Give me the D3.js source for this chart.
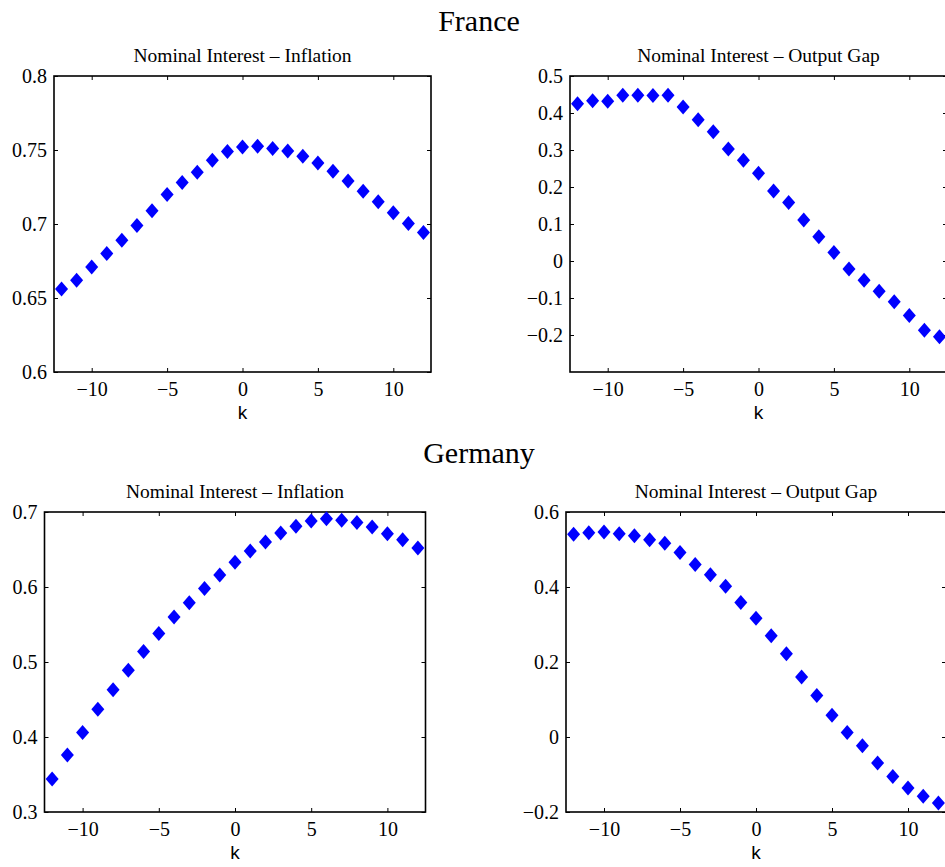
<!DOCTYPE html>
<html>
<head>
<meta charset="utf-8">
<script src="https://cdn.jsdelivr.net/npm/d3@7"></script>
<style>
  html, body { margin: 0; padding: 0; background: #fff; overflow: hidden; }
  svg { display: block; }
</style>
</head>
<body>
<svg id="chart" width="945" height="867"></svg>
<script>
// lags / leads
const kValues = d3.range(-12, 13);

// cross-correlations
const franceInflation = [0.656, 0.662, 0.671, 0.680, 0.689, 0.699, 0.709, 0.720, 0.728, 0.735, 0.743, 0.749,
  0.752, 0.7526, 0.751, 0.7494, 0.7458, 0.7413, 0.7357, 0.729, 0.7222, 0.715, 0.7076, 0.7004, 0.6942];
const franceGap = [0.425, 0.433, 0.432, 0.448, 0.448, 0.447, 0.448, 0.4165, 0.382, 0.349, 0.3025, 0.272,
  0.237, 0.189, 0.158, 0.111, 0.0655, 0.0233, -0.0215, -0.052, -0.0817, -0.110, -0.147, -0.187, -0.205];
const germanyInflation = [0.344, 0.376, 0.406, 0.437, 0.463, 0.489, 0.514, 0.538, 0.560, 0.579, 0.598, 0.616,
  0.633, 0.648, 0.660, 0.672, 0.681, 0.688, 0.691, 0.689, 0.686, 0.680, 0.671, 0.663, 0.652];
const germanyGap = [0.541, 0.545, 0.547, 0.542, 0.537, 0.526, 0.517, 0.492, 0.460, 0.433, 0.402, 0.359,
  0.317, 0.270, 0.222, 0.160, 0.111, 0.058, 0.012, -0.023, -0.069, -0.105, -0.136, -0.158, -0.176];

const xTicks = [-10, -5, 0, 5, 10];
const yTicksFrInfl = [0.6, 0.65, 0.7, 0.75, 0.8];
const yTicksFrGap = [-0.2, -0.1, 0, 0.1, 0.2, 0.3, 0.4, 0.5];
const yTicksDeInfl = [0.3, 0.4, 0.5, 0.6, 0.7];
const yTicksDeGap = [-0.2, 0, 0.2, 0.4, 0.6];

const svg = d3.select("#chart");
const serif = "'Liberation Serif', 'Times New Roman', serif";
const sans = "'Liberation Sans', Arial, sans-serif";
const fmt = d => (d < 0 ? "\u2212" : "") + String(Math.abs(d));

// country headings
svg.append("text").attr("x", 479).attr("y", 31).attr("text-anchor", "middle")
  .style("font-family", serif).style("font-size", "30px").text("France");
svg.append("text").attr("x", 479).attr("y", 463).attr("text-anchor", "middle")
  .style("font-family", serif).style("font-size", "30px").text("Germany");

function panel(box, yDomain, yTicks, values, title) {
  const x = d3.scaleLinear().domain([-12.5, 12.5]).range([box.x0, box.x1]);
  const y = d3.scaleLinear().domain(yDomain).range([box.y1, box.y0]);
  const g = svg.append("g");

  g.append("text")
    .attr("x", (box.x0 + box.x1) / 2).attr("y", box.y0 - 14)
    .attr("text-anchor", "middle")
    .style("font-family", serif).style("font-size", "19.5px")
    .text(title);

  // inward ticks on all four sides (MATLAB style)
  const tickLen = 4;
  const bottom = g.append("g").attr("transform", `translate(0,${box.y1})`)
    .call(d3.axisBottom(x).tickValues(xTicks).tickSize(-tickLen).tickPadding(10).tickFormat(fmt));
  const top = g.append("g").attr("transform", `translate(0,${box.y0})`)
    .call(d3.axisTop(x).tickValues(xTicks).tickSize(-tickLen).tickFormat(""));
  const left = g.append("g").attr("transform", `translate(${box.x0},0)`)
    .call(d3.axisLeft(y).tickValues(yTicks).tickSize(-tickLen).tickPadding(7).tickFormat(fmt));
  const right = g.append("g").attr("transform", `translate(${box.x1},0)`)
    .call(d3.axisRight(y).tickValues(yTicks).tickSize(-tickLen).tickFormat(""));

  [bottom, top, left, right].forEach(a => {
    a.select(".domain").remove();
    a.selectAll(".tick line").attr("stroke", "#000").attr("stroke-width", 1);
    a.selectAll(".tick text").attr("fill", "#000")
      .style("font-family", serif).style("font-size", "20px");
  });

  g.append("rect")
    .attr("x", box.x0).attr("y", box.y0)
    .attr("width", box.x1 - box.x0).attr("height", box.y1 - box.y0)
    .attr("fill", "none").attr("stroke", "#000").attr("stroke-width", 1.6);

  g.append("text")
    .attr("x", x(0)).attr("y", box.y1 + 47)
    .attr("text-anchor", "middle")
    .style("font-family", sans).style("font-size", "19px")
    .text("k");

  // filled diamond markers
  const hw = 6.5, hh = 7.5;
  g.selectAll("path.pt")
    .data(kValues.map((k, i) => ({ k, v: values[i] })))
    .enter().append("path")
    .attr("class", "pt")
    .attr("d", d => {
      const cx = x(d.k), cy = y(d.v);
      return `M${cx},${cy - hh}L${cx + hw},${cy}L${cx},${cy + hh}L${cx - hw},${cy}Z`;
    })
    .attr("fill", "#0000ff");
}

panel({ x0: 54, x1: 431, y0: 76, y1: 372 }, [0.6, 0.8], yTicksFrInfl, franceInflation, "Nominal Interest \u2013 Inflation");
panel({ x0: 570, x1: 947, y0: 76, y1: 372 }, [-0.3, 0.5], yTicksFrGap, franceGap, "Nominal Interest \u2013 Output Gap");
panel({ x0: 44.5, x1: 425.5, y0: 512, y1: 812 }, [0.3, 0.7], yTicksDeInfl, germanyInflation, "Nominal Interest \u2013 Inflation");
panel({ x0: 566, x1: 946, y0: 512, y1: 812 }, [-0.2, 0.6], yTicksDeGap, germanyGap, "Nominal Interest \u2013 Output Gap");
</script>
</body>
</html>
